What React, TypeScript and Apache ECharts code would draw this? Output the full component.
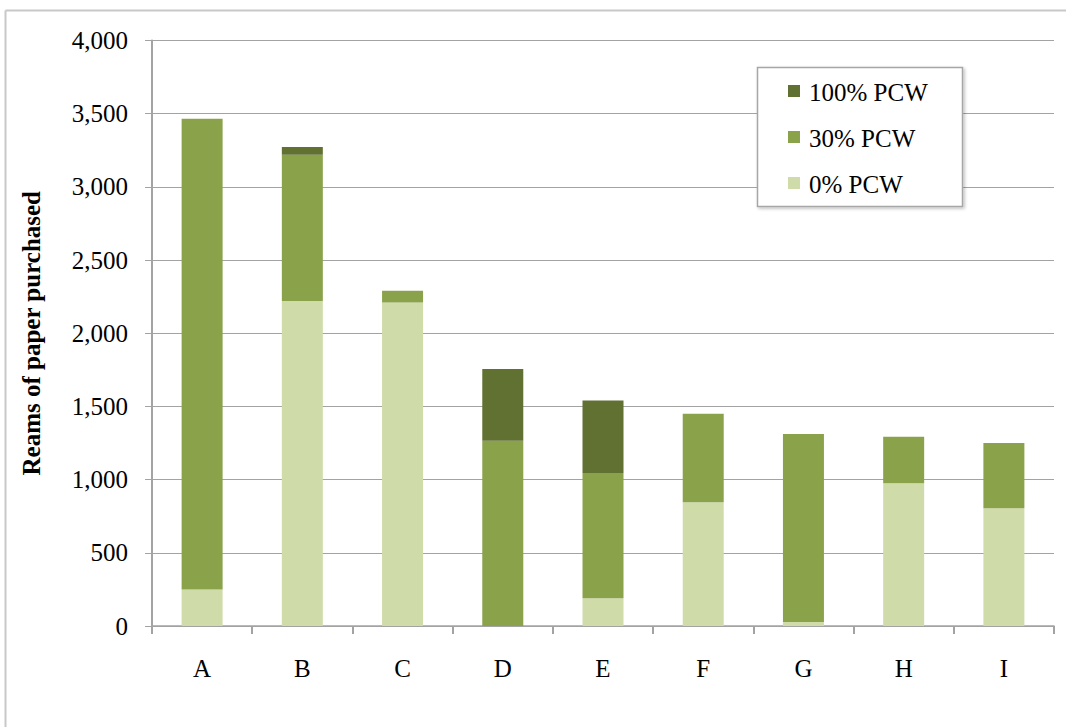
import React, { useEffect, useRef } from "react";
import * as echarts from "echarts";

const categories = ["A", "B", "C", "D", "E", "F", "G", "H", "I"];
const pcw0 = [250, 2220, 2210, 0, 190, 845, 27, 975, 805];
const pcw30 = [3215, 1000, 80, 1265, 855, 605, 1285, 318, 445];
const pcw100 = [0, 52, 0, 490, 495, 0, 0, 0, 0];
const seriesNames = ["0% PCW", "30% PCW", "100% PCW"];
const legendOrder = ["100% PCW", "30% PCW", "0% PCW"];
const yTicks = { min: 0, max: 4000, interval: 500 };

const FONT = "Liberation Serif";
const GRID_COLOR = "#a3a3a3";

export default function App() {
  const ref = useRef<HTMLDivElement>(null);
  useEffect(() => {
    if (!ref.current) return;
    const chart = echarts.init(ref.current, undefined, { renderer: "svg" });
    const colors = ["#cfdcaa", "#8aa34b", "#617132"];
    const datas = [pcw0, pcw30, pcw100];
    const legendItems: any[] = [];
    legendOrder.forEach((name, k) => {
      const idx = seriesNames.indexOf(name);
      const cy = 91 + k * 46;
      legendItems.push({
        type: "rect",
        z: 6,
        shape: { x: 788, y: cy - 6, width: 12, height: 12 },
        style: { fill: colors[idx] },
      });
      legendItems.push({
        type: "text",
        z: 6,
        style: {
          text: name,
          x: 809,
          y: cy + 1,
          fontFamily: FONT,
          fontSize: 25,
          fill: "#000",
          verticalAlign: "middle",
          align: "left",
        },
      });
    });
    chart.setOption({
      animation: false,
      backgroundColor: "#ffffff",
      textStyle: { fontFamily: FONT },
      grid: { left: 152, top: 40.5, width: 902, height: 585.5, containLabel: false },
      graphic: [
        { type: "line", z: 0, shape: { x1: 5.5, y1: 10.5, x2: 1066, y2: 10.5 }, style: { stroke: "#c8c8c8", lineWidth: 2 } },
        { type: "line", z: 0, shape: { x1: 5.5, y1: 10.5, x2: 5.5, y2: 727 }, style: { stroke: "#c8c8c8", lineWidth: 2 } },
        {
          type: "rect",
          z: 3,
          shape: { x: 757.5, y: 67.5, width: 205, height: 139 },
          style: {
            fill: "#ffffff",
            stroke: "#a6a6a6",
            lineWidth: 1.5,
            shadowBlur: 3,
            shadowOffsetX: 1.5,
            shadowOffsetY: 1.5,
            shadowColor: "rgba(0,0,0,0.25)",
          },
        },
        ...legendItems,
      ],
      xAxis: {
        type: "category",
        data: categories,
        axisLine: { show: true, lineStyle: { color: GRID_COLOR, width: 1.5 } },
        axisTick: { show: true, length: 8, interval: 0, lineStyle: { color: GRID_COLOR, width: 2 } },
        axisLabel: { margin: 30, fontFamily: FONT, fontSize: 25, color: "#000", interval: 0 },
      },
      yAxis: {
        type: "value",
        min: yTicks.min,
        max: yTicks.max,
        interval: yTicks.interval,
        name: "Reams of paper purchased",
        nameLocation: "middle",
        nameGap: 108,
        nameRotate: 90,
        nameTextStyle: { fontFamily: FONT, fontSize: 25, fontWeight: "bold", color: "#000" },
        axisLine: { show: true, lineStyle: { color: GRID_COLOR, width: 2 } },
        axisTick: { show: true, length: 7, lineStyle: { color: GRID_COLOR, width: 1 } },
        splitLine: { show: true, lineStyle: { color: GRID_COLOR, width: 1 } },
        axisLabel: {
          margin: 24,
          fontFamily: FONT,
          fontSize: 25,
          color: "#000",
          formatter: (v: number) => v.toLocaleString("en-US"),
        },
      },
      series: seriesNames.map((name, i) => ({
        name,
        type: "bar",
        stack: "total",
        barWidth: 41,
        data: datas[i],
        itemStyle: { color: colors[i] },
        emphasis: { disabled: true },
      })),
    });
    return () => chart.dispose();
  }, []);
  return (
    <div
      ref={ref}
      style={{ position: "fixed", left: 0, top: 0, width: 1066, height: 727 }}
    />
  );
}
